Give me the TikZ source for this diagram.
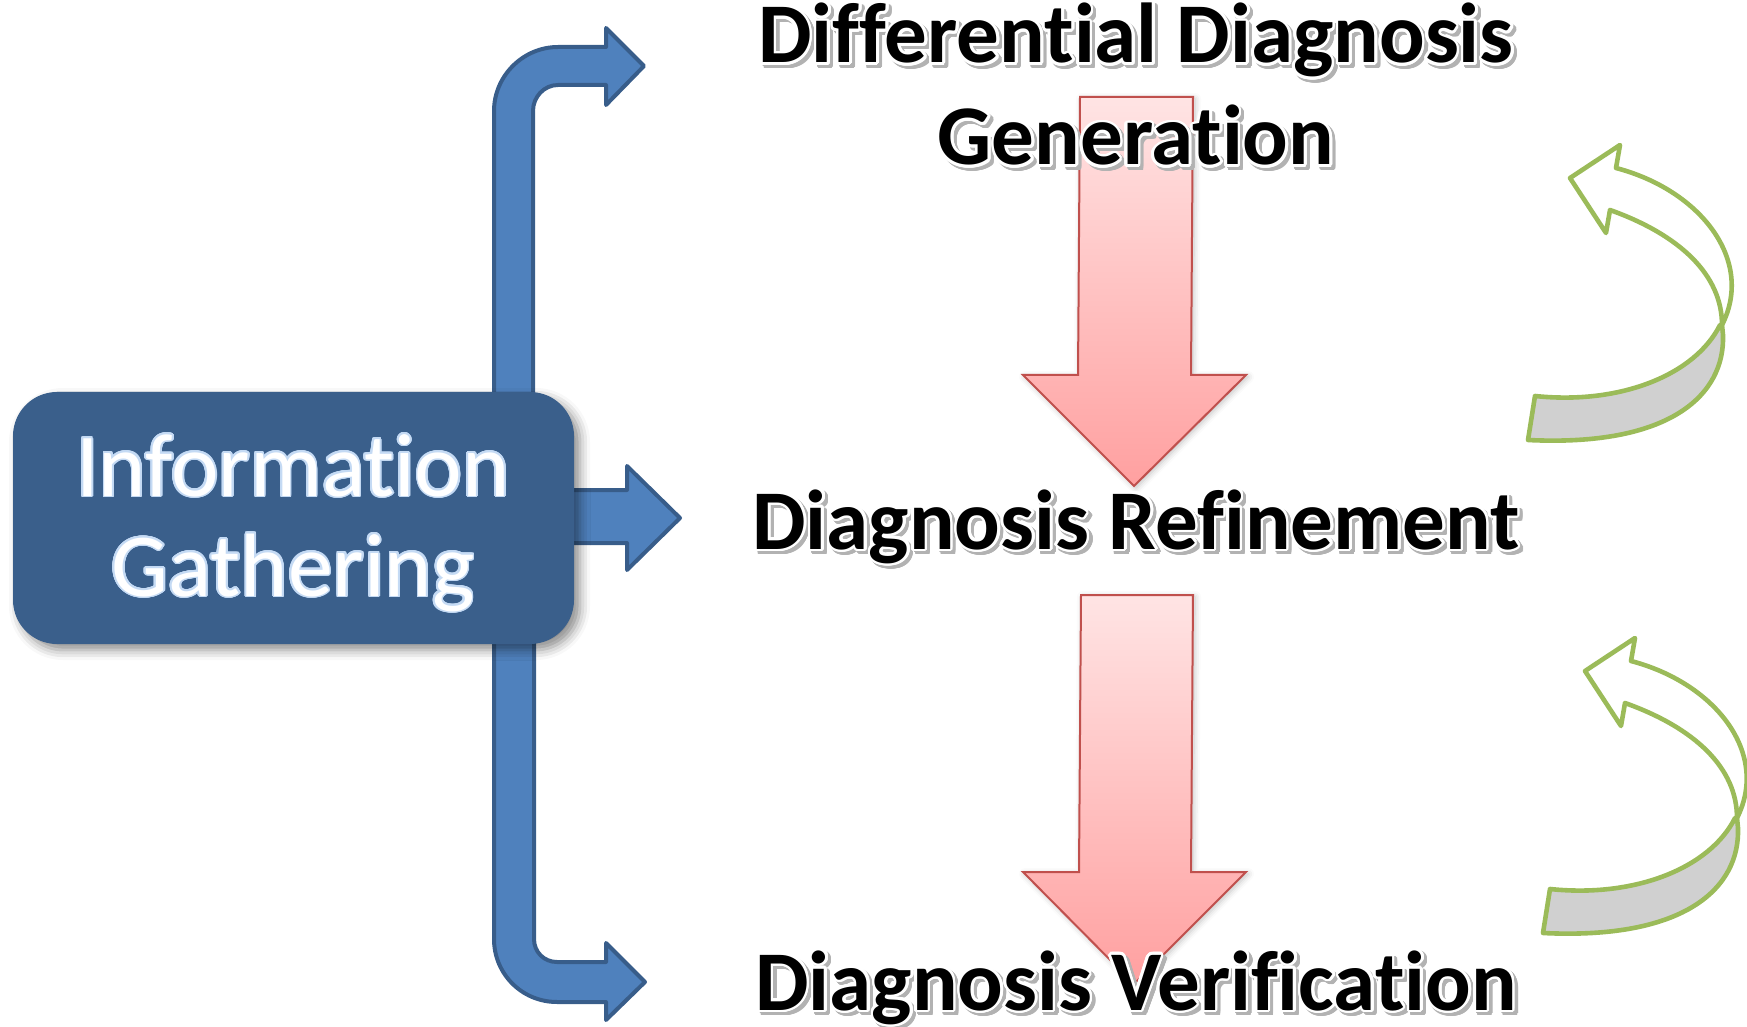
\documentclass[tikz,border=0pt]{standalone}
\usepackage{fontspec}
\setmainfont{Carlito}[Ligatures=NoCommon, RawFeature={-liga;-clig;-calt}]
\usepackage{contour}
\contournumber{24}
\usetikzlibrary{shadows.blur}

\definecolor{boxblue}{RGB}{58,95,139}
\definecolor{arrowblue}{RGB}{79,129,189}
\definecolor{arrowedge}{RGB}{56,93,138}
\definecolor{pinktop}{RGB}{255,228,228}
\definecolor{pinkbot}{RGB}{255,160,160}
\definecolor{pinkedge}{RGB}{192,80,77}
\definecolor{leafgreen}{RGB}{155,187,89}
\definecolor{ribbongray}{RGB}{208,208,208}
\definecolor{glowblue}{RGB}{196,218,244}

\newcommand{\titlefont}{\fontsize{42.5}{50}\selectfont\bfseries}
\newcommand{\infofont}{\fontsize{45}{50}\selectfont}

% title with white outline and a soft grey drop shadow
\newcommand{\stagetitle}[3]{%
  \node[titletext, text=gray!60, xshift=1.6pt, yshift=-1.6pt] at #2 {\contour{gray!60}{#3}};
  \node[titletext] (#1) at #2 {\contour{white}{#3}};
}

\tikzset{
  titletext/.style={anchor=base, font=\titlefont, inner sep=0pt},
  infotext/.style={anchor=base, font=\infofont, text=white, inner sep=0pt},
  infobox/.style={fill=boxblue, rounded corners=22pt, minimum width=280.5pt,
    minimum height=126pt, inner sep=0pt,
    blur shadow={shadow xshift=3pt, shadow yshift=-3pt, shadow blur radius=5pt, shadow opacity=45}},
  bluearrow/.style={fill=arrowblue, draw=arrowedge, line width=2pt, line join=round},
  pinkarrow/.style={top color=pinktop, bottom color=pinkbot, draw=pinkedge, line width=1pt,
    line join=miter,
    blur shadow={shadow xshift=1pt, shadow yshift=-1pt, shadow blur radius=3pt, shadow opacity=25}},
  greenline/.style={draw=leafgreen, line width=2.3pt, line join=round},
  pics/looparrow/.style={code={
    % grey back of the ribbon
    \path[greenline, fill=ribbongray]
      (222,205) -- (223,215) .. controls (225,275) and (170,327) .. (28,320)
      -- (35,276) .. controls (120,285) and (195,255) .. (220,205) -- cycle;
    % white front with the arrow head
    \path[greenline, fill=white]
      (70,58) -- (120,25) -- (116,48)
      .. controls (200,70) and (255,140) .. (222,205)
      .. controls (222,155) and (180,115) .. (110,90)
      -- (106,113) -- cycle;
  }}
}

\begin{document}
\begin{tikzpicture}[x=0.5pt, y=-0.5pt]
\useasboundingbox (0,0) rectangle (1747,1027);

% branch to the top stage
\path[bluearrow] (494,430) -- (494,111)
  .. controls (494,76) and (523,47) .. (558,47) -- (606,47) -- (606,28)
  -- (644,66) -- (606,105) -- (606,85) -- (558,85)
  .. controls (544,85) and (533,97) .. (533,111) -- (533,430) -- cycle;
% branch to the bottom stage
\path[bluearrow] (494,600) -- (494,939)
  .. controls (494,974) and (522,1002) .. (557,1002) -- (606,1002) -- (606,1020)
  -- (645,982) -- (606,943) -- (606,962) -- (557,962)
  .. controls (544,962) and (534,952) .. (534,939) -- (534,600) -- cycle;
% straight arrow to the middle stage
\path[bluearrow] (560,490) -- (627,490) -- (627,466) -- (680,518)
  -- (627,570) -- (627,543) -- (560,543) -- cycle;

% source box
\node[infobox] (info) at (293.5,518) {};
\node[infotext] (infoA) at (293,496) {\contourlength{0.9pt}\contour{glowblue}{Information}};
\node[infotext] (infoB) at (293,596) {\contourlength{0.9pt}\contour{glowblue}{Gathering}};

% downward arrows between the stages
\path[pinkarrow] (1080,97) -- (1193,97) -- (1191,375) -- (1246,375) -- (1134,486)
  -- (1023,375) -- (1078,375) -- cycle;
\path[pinkarrow] (1081,595) -- (1193,595) -- (1191,872) -- (1246,872) -- (1134,984)
  -- (1023,872) -- (1079,872) -- cycle;

% stage titles
\contourlength{1.3pt}
\stagetitle{ddg1}{(1136,63)}{Differential Diagnosis}
\stagetitle{ddg2}{(1136,165)}{Generation}
\stagetitle{refine}{(1136,549)}{Diagnosis Refinement}
\stagetitle{verify}{(1136,1010)}{Diagnosis Verification}

% feedback loops
\pic at (1500,120) {looparrow};
\pic at (1515,613) {looparrow};
\end{tikzpicture}
\end{document}
